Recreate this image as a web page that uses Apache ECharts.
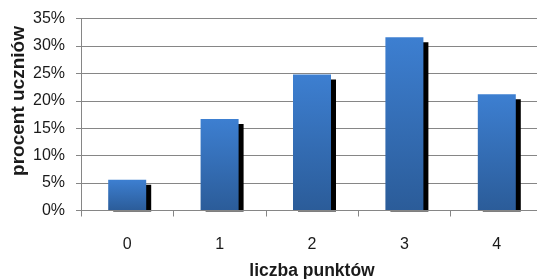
<!DOCTYPE html>
<html><head><meta charset="utf-8">
<script src="https://cdn.jsdelivr.net/npm/echarts@6/dist/echarts.min.js"></script>
<style>html,body{margin:0;padding:0;background:#fff}#c{width:537px;height:279px}</style>
</head><body><div id="c"></div>
<script>
const categories = ['0', '1', '2', '3', '4'];
const values = [5.6, 16.7, 24.8, 31.6, 21.2];
const yTicks = [0, 5, 10, 15, 20, 25, 30, 35];
const xTitle = 'liczba punktów';
const yTitle = 'procent uczniów';

const chart = echarts.init(document.getElementById('c'));
const grad = new echarts.graphic.LinearGradient(0, 0, 0, 1, [
  { offset: 0, color: '#3d7fd1' }, { offset: 1, color: '#2b5c99' }
]);
chart.setOption({
  animation: false,
  grid: { left: 81, top: 18.5, width: 462, height: 192, containLabel: false, outerBoundsMode: 'none' },
  graphic: [{
    type: 'text', x: 19, y: 101, rotation: Math.PI / 2,
    style: { text: yTitle, align: 'center', verticalAlign: 'middle', fontFamily: 'Liberation Sans', fontWeight: 'bold', fontSize: 19, fill: '#1a1a1a' }
  }],
  xAxis: {
    type: 'category', data: categories,
    name: xTitle, nameLocation: 'middle', nameGap: 52,
    nameTextStyle: { fontFamily: 'Liberation Sans', fontWeight: 'bold', fontSize: 17.5, color: '#1a1a1a' },
    axisLine: { lineStyle: { color: '#868686', width: 1 } },
    axisTick: { show: true, length: 6, lineStyle: { color: '#868686' } },
    axisLabel: { margin: 26, fontFamily: 'Liberation Sans', fontSize: 16, color: '#1a1a1a' },
    z: 3
  },
  yAxis: {
    type: 'value', min: yTicks[0], max: yTicks[yTicks.length - 1], interval: 5,
    axisLine: { show: true, lineStyle: { color: '#868686', width: 1 } },
    axisTick: { show: true, length: 5, lineStyle: { color: '#868686' } },
    axisLabel: { margin: 16, fontFamily: 'Liberation Sans', fontSize: 16, color: '#1a1a1a', formatter: v => v + '%' },
    splitLine: { lineStyle: { color: '#868686', width: 1 } }
  },
  series: [{
    type: 'custom',
    data: values.map((v, i) => [i, v]),
    encode: { x: 0, y: 1 },
    renderItem: function (params, api) {
      const i = api.value(0), v = api.value(1);
      const base = api.coord([i, 0]);
      const top = api.coord([i, v]);
      const w = 38, off = 5;
      const x0 = top[0] - w / 2;
      return {
        type: 'group',
        children: [
          { type: 'rect', shape: { x: x0 + off, y: top[1] + off, width: w, height: base[1] - top[1] - off + 1 }, style: { fill: '#000' } },
          { type: 'rect', shape: { x: x0, y: top[1], width: w, height: base[1] - top[1] }, style: { fill: grad } }
        ]
      };
    }
  }]
});
</script></body></html>
